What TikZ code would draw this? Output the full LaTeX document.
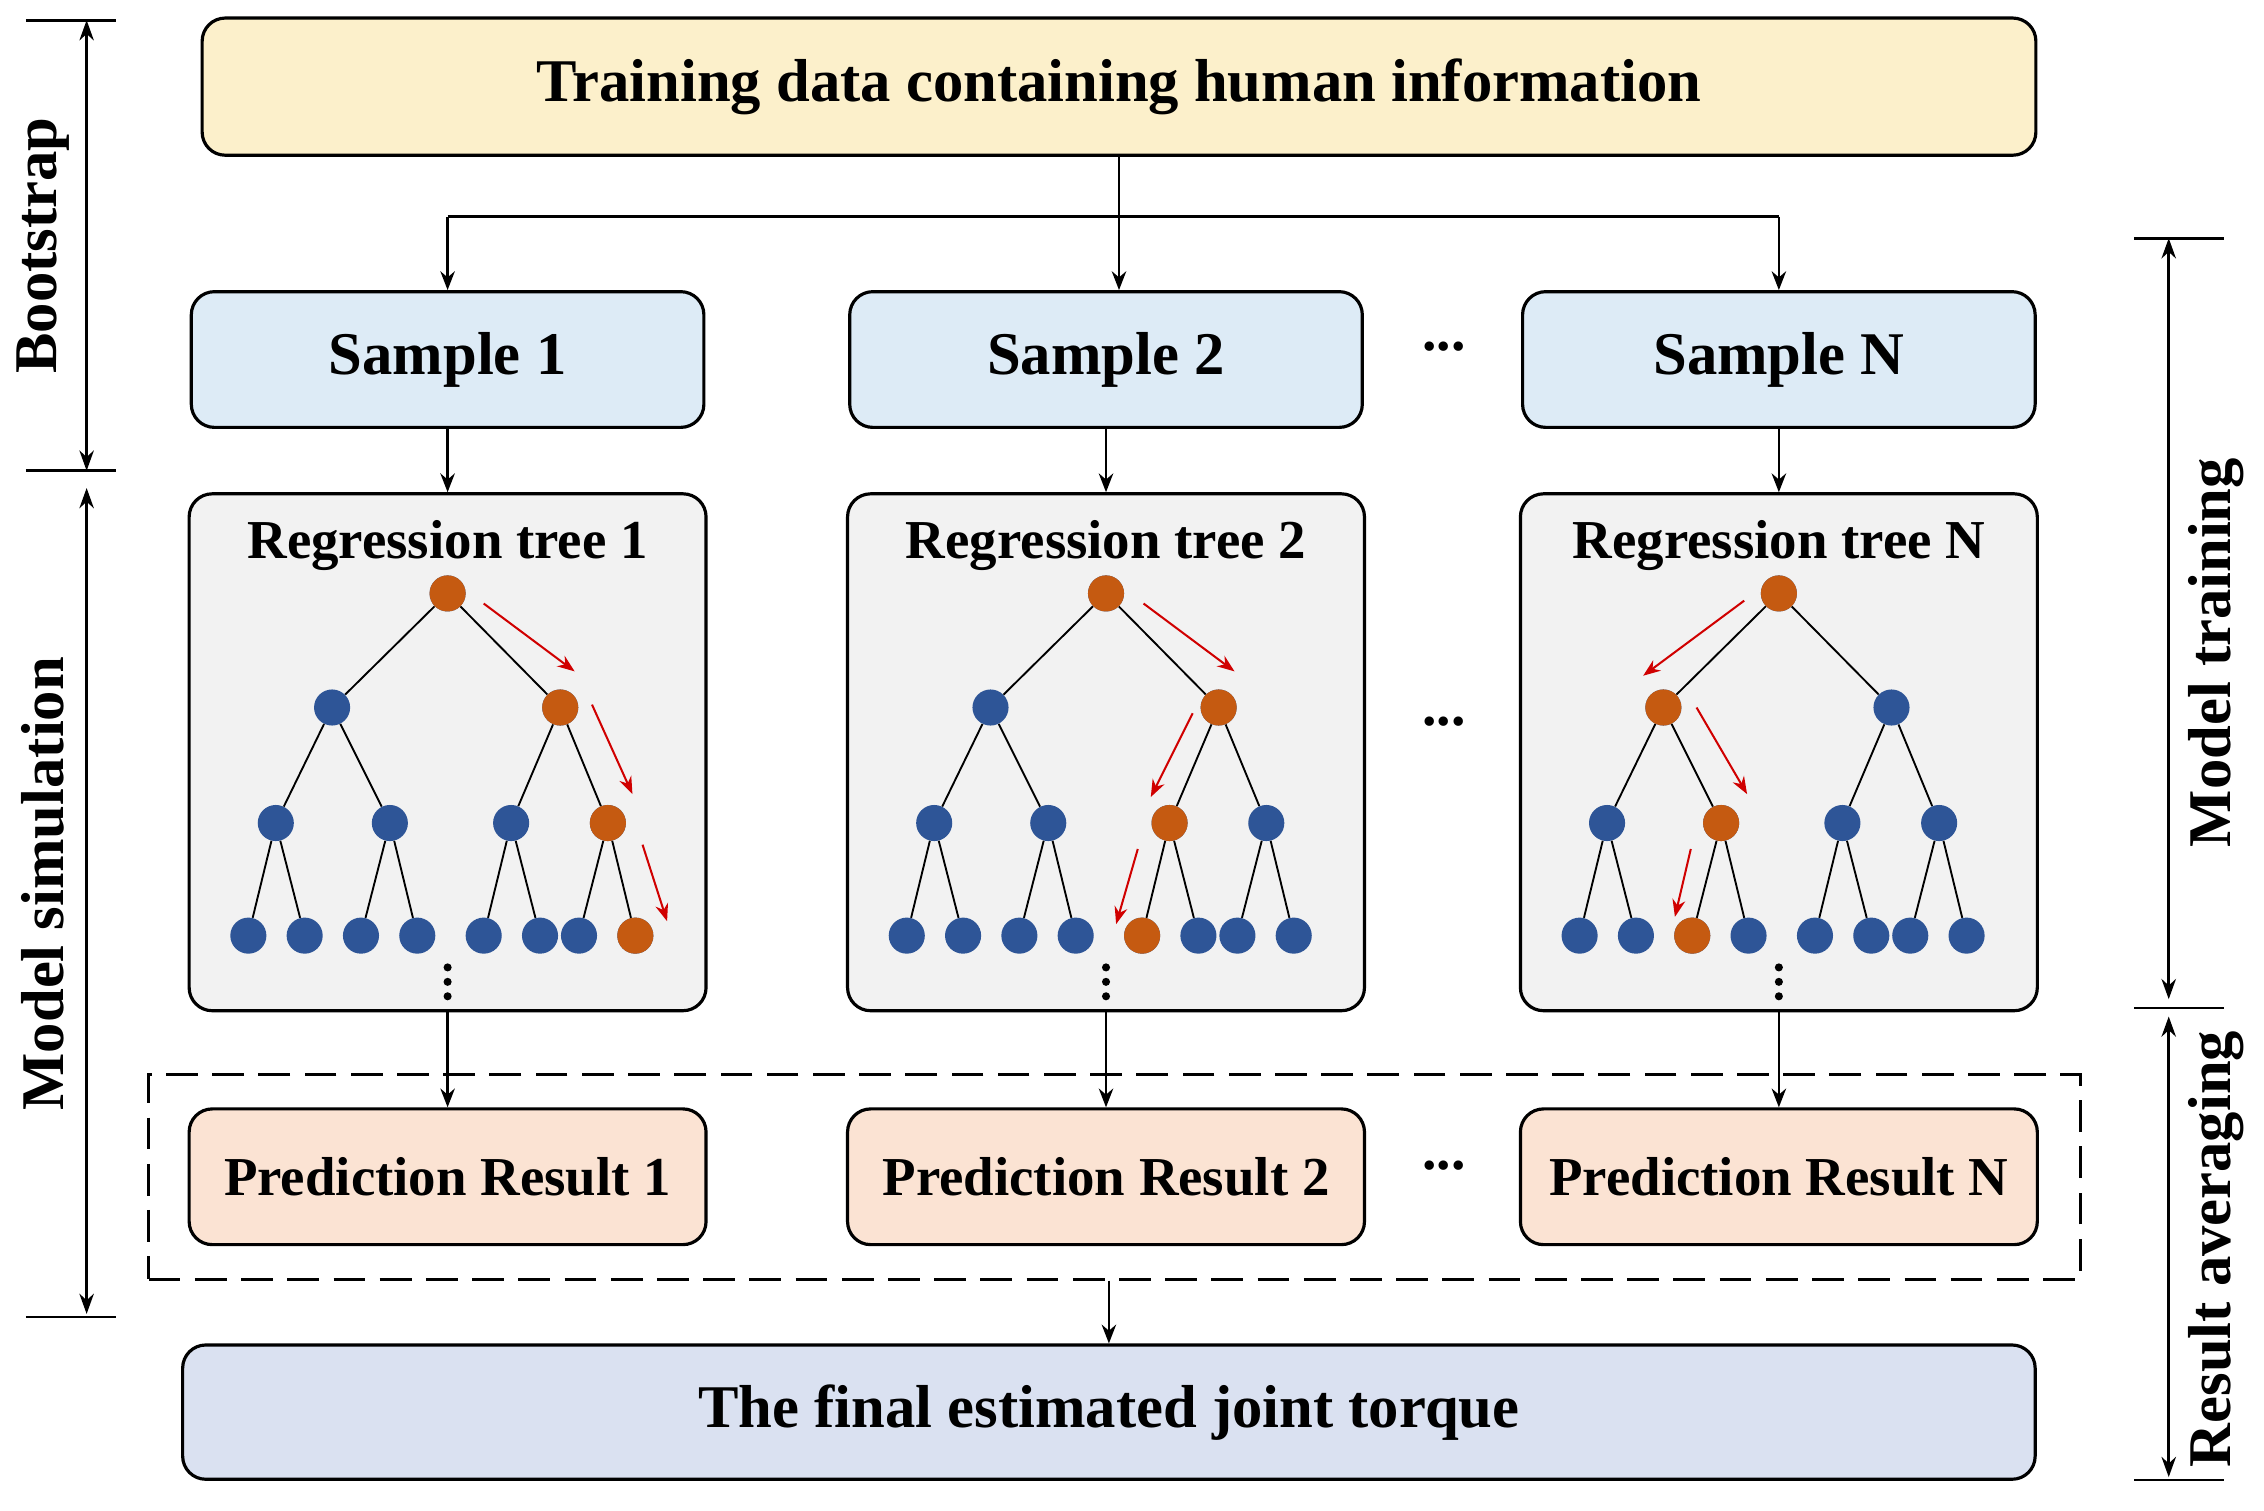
\documentclass[tikz,border=0pt]{standalone}
\usepackage{fontspec}
\setmainfont{Liberation Serif}
\usetikzlibrary{arrows.meta, calc, positioning}
\definecolor{topfill}{HTML}{FCF0CB}
\definecolor{smpfill}{HTML}{DDEBF6}
\definecolor{treefill}{HTML}{F2F2F2}
\definecolor{predfill}{HTML}{FBE3D3}
\definecolor{finfill}{HTML}{DAE1F1}
\definecolor{bnode}{HTML}{2E5597}
\definecolor{onode}{HTML}{C55A11}
\definecolor{redarr}{HTML}{D00000}
\tikzset{
  box/.style={draw, line width=2.2pt, rounded corners=16pt, font=\fontsize{42}{46}\selectfont\bfseries},
  bn/.style={circle, fill=bnode, inner sep=0pt, minimum size=25pt},
  on/.style={circle, fill=onode, inner sep=0pt, minimum size=25pt},
  flow/.style={-{Stealth[length=13pt,width=10pt]}, line width=1.8pt},
  red/.style={-{Stealth[length=12pt,width=9pt]}, line width=1.4pt, redarr},
  side/.style={{Stealth[length=14pt,width=10pt]}-{Stealth[length=14pt,width=10pt]}, line width=1.8pt},
  lbl/.style={font=\fontsize{42}{46}\selectfont\bfseries, rotate=90}
}
% one regression tree: #1 name, #2 root x
\newcommand{\regtree}[2]{
  \node[bn] (#1r) at (#2,411) {};
  \node[bn] (#1a) at (#2-80,490) {};
  \node[bn] (#1b) at (#2+78,490) {};
  \foreach \n/\p/\dx in {c/a/-119,d/a/-40,e/b/44,f/b/111}
    \node[bn] (#1\n) at (#2+\dx,570) {};
  \foreach \n/\p/\dx in {g/c/-138,h/c/-99,i/d/-60,j/d/-21,k/e/25,l/e/64,m/f/91,o/f/130}
    \node[bn] (#1\n) at (#2+\dx,648) {};
  \foreach \p/\c in {r/a,r/b,a/c,a/d,b/e,b/f,c/g,c/h,d/i,d/j,e/k,e/l,f/m,f/o}
    \draw[line width=1.3pt] (#1\p) -- (#1\c);
  \foreach \dy in {670,680,690} \fill (#2,\dy) circle (2.8pt);
}
\begin{document}
\begin{tikzpicture}[x=1pt, y=-1pt]
\useasboundingbox (0,0) rectangle (1568,1046);

% Boxes
\node[box, fill=topfill, minimum width=1270pt, minimum height=95pt] (top) at (775,60) {Training data containing human information};
\foreach \i/\x/\t in {1/310/1,2/766/2,3/1232/N} {
  \node[box, fill=smpfill, minimum width=355pt, minimum height=94pt] (s\i) at (\x,249) {Sample \t};
  \node[box, fill=treefill, minimum width=358pt, minimum height=358pt] (t\i) at (\x,521) {};
  \node[font=\fontsize{38}{40}\selectfont\bfseries] (tl\i) at (\x,378) {Regression tree \t};
  \node[box, fill=predfill, minimum width=358pt, minimum height=94pt, font=\fontsize{38}{40}\selectfont\bfseries] (p\i) at (\x,815) {Prediction Result \t};
}
\node[draw, dash pattern=on 22pt off 10pt, line width=1.8pt, minimum width=1338pt, minimum height=142pt] (avg) at (772,815) {};
\node[box, fill=finfill, minimum width=1283pt, minimum height=93pt] (fin) at (768,978) {The final estimated joint torque};

% Trees
\regtree{A}{310}
\regtree{B}{766}
\regtree{C}{1232}
\foreach \n in {Ar,Ab,Af,Ao,Br,Bb,Be,Bk,Cr,Ca,Cd,Ci} \node[on] at (\n) {};

% Red paths
\draw[red] (335,418) -- (398,465);
\draw[red] (410,488) -- (438,550);
\draw[red] (445,585) -- (462,638);
\draw[red] (792,418) -- (855,465);
\draw[red] (826,494) -- (797,552);
\draw[red] (788,588) -- (773,640);
\draw[red] (1208,416) -- (1138,468);
\draw[red] (1175,490) -- (1210,550);
\draw[red] (1171,588) -- (1160,635);

% Dots
\foreach \y in {248,508,815} \node[font=\fontsize{40}{40}\selectfont\bfseries] at (1000,\y-8) {...};

% Flow
\coordinate (split) at (775,150);
\draw[line width=1.8pt] (top.south -| split) -- (split);
\draw[line width=1.8pt] (s1.north |- split) -- (s3.north |- split);
\draw[flow] (s1.north |- split) -- (s1.north);
\draw[flow] (split) -- (split |- s2.north);
\draw[flow] (s3.north |- split) -- (s3.north);
\foreach \i in {1,2,3} {
  \draw[flow] (s\i) -- (t\i);
  \draw[flow] (t\i) -- (p\i);
}
\draw[flow] (avg.south -| fin) -- (fin);

% Side brackets
\foreach \y in {14,326,912} \draw[line width=1.8pt] (18,\y) -- (80,\y);
\foreach \y in {165,698,1025} \draw[line width=1.8pt] (1478,\y) -- (1540,\y);
\draw[side] (60,14) -- (60,326);
\draw[side] (60,338) -- (60,910);
\draw[side] (1502,165) -- (1502,692);
\draw[side] (1502,704) -- (1502,1023);
\node[lbl] at (30,170) {Bootstrap};
\node[lbl] at (30,612) {Model simulation};
\node[lbl] at (1535,452) {Model training};
\node[lbl] at (1535,865) {Result averaging};
\end{tikzpicture}
\end{document}
